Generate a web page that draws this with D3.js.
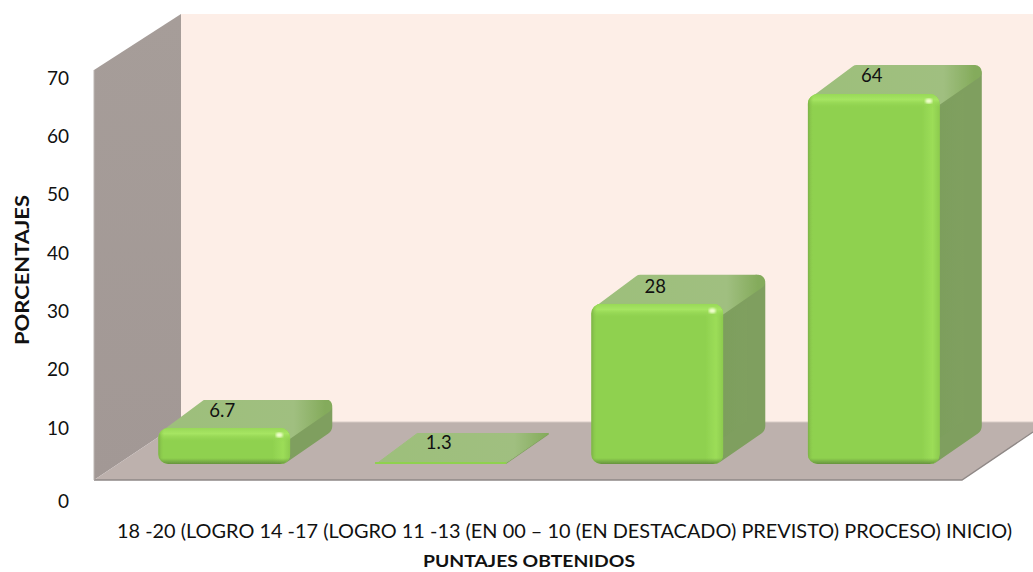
<!DOCTYPE html>
<html><head><meta charset="utf-8">
<script src="https://cdn.jsdelivr.net/npm/d3@7/dist/d3.min.js"></script>
<style>html,body{margin:0;padding:0;background:#fff}svg{display:block}text{font-family:Lato,"Open Sans",sans-serif;fill:#111}</style>
</head><body><svg id="c" width="1033" height="572"></svg>
<script>
const categoryLine1 = ["18 -20 (LOGRO","14 -17 (LOGRO","11 -13 (EN","00 – 10 (EN"];
const categoryLine2 = ["DESTACADO)","PREVISTO)","PROCESO)","INICIO)"];
const values = [6.7,1.3,28,64];
const valueLabels = ["6.7","1.3","28","64"];
const yTicks = [0,10,20,30,40,50,60,70];
const yTitle = "PORCENTAJES", xTitle = "PUNTAJES OBTENIDOS";

const svg = d3.select("#c");
const defs = svg.append("defs");
function lin(id,x2,y2,stops){
  const g=defs.append("linearGradient").attr("id",id).attr("x1",0).attr("y1",0).attr("x2",x2).attr("y2",y2);
  stops.forEach(s=>g.append("stop").attr("offset",s[0]).attr("stop-color",s[1]).attr("stop-opacity",s[2]===undefined?1:s[2]));
}
lin("wallL",0,1,[[0,"#a69d99"],[1,"#a29895"]]);
lin("topF",1,0,[[0,"#9dbf7b"],[.8,"#a0bf80"],[1,"#84ab5b"]]);
lin("sideF",1,0,[[0,"#7c9e5c"],[.85,"#80a05f"],[1,"#7b9a5c"]]);
lin("hiT",0,1,[[0,"#98d957",1],[.4,"#a6e562",1],[1,"#90d24f",0]]);
lin("hiR",1,0,[[0,"#9cdd58",0],[.6,"#9cdd58",1],[1,"#8cca4e",1]]);
lin("loB",0,1,[[0,"#6c9a42",0],[1,"#66923f",1]]);
lin("loL",1,0,[[0,"#78aa45",.9],[1,"#90d24f",0]]);
defs.append("filter").attr("id","soft").attr("x","-10%").attr("y","-10%").attr("width","120%").attr("height","120%")
  .append("feGaussianBlur").attr("stdDeviation",.7);
defs.append("filter").attr("id","glow").append("feGaussianBlur").attr("stdDeviation",1);

// scene frame
const line = d3.line();
svg.append("rect").attr("x",181).attr("y",14).attr("width",852).attr("height",408).attr("fill","#fdeee7");
svg.append("path").attr("d",line([[94,70],[181,14],[181,422],[94,480]])+"Z").attr("fill","url(#wallL)");
svg.append("path").attr("d",line([[94,480],[181,422],[1033,422],[1033,432],[962,480]])+"Z").attr("fill","#bdb1ad");
svg.append("path").attr("d",line([[94,480],[962,480],[1033,432]])).attr("fill","none").attr("stroke","#8f8886").attr("stroke-width",1.4);
svg.append("path").attr("d",line([[94,480],[94,70]])).attr("fill","none").attr("stroke","#bcb6b3").attr("stroke-width",1);
svg.append("path").attr("d",line([[181,422],[1033,422]])).attr("fill","none").attr("stroke","#d8ccc6").attr("stroke-width",1);

// scales
const x = d3.scaleBand().domain(categoryLine1).range([116,982]).paddingInner(.39).paddingOuter(.195);
const y = d3.scaleLinear().domain([1.3,6.7,64]).range([462,428,94]);
const labelY = d3.scaleLinear().domain([1.3,64]).range([462,95]);
const yAxisScale = d3.scaleLinear().domain([0,10,70]).range([501,428,78]);
const bottom = 464, dx = 42, dy = 29;

const bars = svg.selectAll("g.bar").data(values).join("g").attr("class","bar").attr("filter","url(#soft)");
bars.each(function(v,i){
  const g=d3.select(this), x0=x(categoryLine1[i]), x1=x0+x.bandwidth(), y0=y(v), h=bottom-y0;
  const r=Math.min(10,h/2), s=Math.min(9,Math.max(h/2,.5)), t=h>10?7:.5;
  // side face with rounded back edge
  g.append("path").attr("d",line([[x1-s,y0+s],[x1+dx-s,y0-dy+s],[x1+dx-s,bottom-dy-s],[x1-s,bottom-s]])+"Z")
    .attr("fill","url(#sideF)").attr("stroke","#7f9f5f").attr("stroke-width",2*s).attr("stroke-linejoin","round");
  // top face
  g.append("path").attr("d",line([[x0+t+3,y0+t],[x0+dx+t,y0-dy+t],[x1+dx-t,y0-dy+t],[x1-t,y0+t]])+"Z")
    .attr("fill","url(#topF)").attr("stroke","url(#topF)").attr("stroke-width",2*t).attr("stroke-linejoin","round");
  // front face
  const cid="clip"+i;
  defs.append("clipPath").attr("id",cid).append("rect").attr("x",x0).attr("y",y0).attr("width",x1-x0).attr("height",h).attr("rx",r).attr("ry",r);
  const f=g.append("g").attr("clip-path",`url(#${cid})`);
  f.append("rect").attr("x",x0).attr("y",y0).attr("width",x1-x0).attr("height",h).attr("fill","#8fd14f");
  if(h>10){
    f.append("rect").attr("x",x1-18).attr("y",y0).attr("width",18).attr("height",h).attr("fill","url(#hiR)");
    f.append("rect").attr("x",x0).attr("y",y0).attr("width",x1-x0).attr("height",14).attr("fill","url(#hiT)");
    f.append("rect").attr("x",x0).attr("y",y0).attr("width",6).attr("height",h).attr("fill","url(#loL)");
    f.append("rect").attr("x",x0).attr("y",bottom-6).attr("width",x1-x0).attr("height",6).attr("fill","url(#loB)");
    g.append("ellipse").attr("cx",x1-11).attr("cy",y0+7).attr("rx",3.5).attr("ry",2.5).attr("fill","#f2ffd0").attr("filter","url(#glow)");
  }
});

// value labels
svg.selectAll("text.val").data(values).join("text").attr("class","val")
  .attr("x",(d,i)=>x(categoryLine1[i])+x.bandwidth()/2-2)
  .attr("y",d=>labelY(d)-13).attr("text-anchor","middle").attr("font-size",18.5)
  .text((d,i)=>valueLabels[i]);

// y axis
const ax = svg.append("g").attr("transform","translate(69,0)")
  .call(d3.axisLeft(yAxisScale).tickValues(yTicks).tickSize(0).tickPadding(0));
ax.select(".domain").remove();
ax.selectAll("text").attr("font-size",19).style("font-family","Lato,sans-serif").attr("fill","#111");

// x label run and titles
svg.append("text").attr("x",117).attr("y",538).attr("font-size",18.5)
  .attr("textLength",895).attr("lengthAdjust","spacingAndGlyphs")
  .text(categoryLine1.concat(categoryLine2).join(" "));
svg.append("text").attr("x",529).attr("y",567).attr("text-anchor","middle").attr("font-size",17).attr("font-weight",700)
  .attr("textLength",212).attr("lengthAdjust","spacingAndGlyphs").text(xTitle);
svg.append("text").attr("transform","translate(29,270) rotate(-90)").attr("text-anchor","middle").attr("font-size",19.5).attr("font-weight",700)
  .attr("textLength",150).attr("lengthAdjust","spacingAndGlyphs").text(yTitle);
</script></body></html>
